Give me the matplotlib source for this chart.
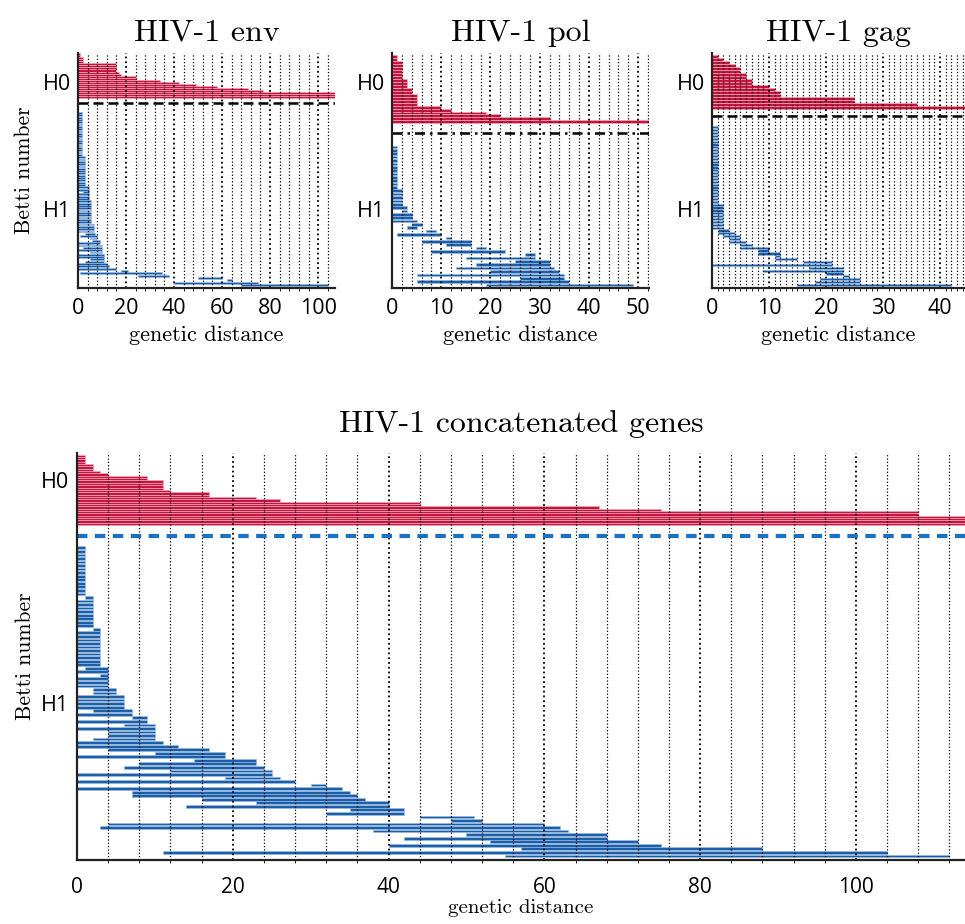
import numpy as np
import matplotlib
matplotlib.use("Agg")
import matplotlib.pyplot as plt
from matplotlib.ticker import MultipleLocator

RED = "#c5143d"
PINK = "#f2aabb"
BLUE = "#1d5ea8"
LIGHTBLUE = "#9cbfe4"

# ---- env barcode ----
env_h0 = [1, 1, 2, 2, 2, 16, 16, 16, 16, 17, 18, 24, 24, 34, 42, 49, 58, 71, 77, 107, 107, 107]
env_h1_birth = ([0] * 19 + [0] * 13 + [0, 0, 2, 0, 0, 0] + [0] * 10 + [0] * 4
                + [3, 1, 5, 6, 0] + [0, 2, 0, 5, 0, 0, 5, 3, 0, 0]
                + [0, 18, 1, 25, 50, 62, 40, 68])
env_h1_death = ([1.8] * 19 + [2.8] * 13 + [4.6] * 6 + [5.5] * 10 + [6.7] * 4
                + [7, 8, 8, 9, 9] + [10, 10, 10, 10, 11, 11, 11, 11, 12, 13]
                + [15.7, 21, 35, 38, 60, 64, 75, 104])

# ---- pol barcode ----
pol_h0 = [1, 1, 2, 2, 2, 2, 2, 2, 3, 3, 3, 4, 4, 5, 5, 5, 5, 10, 12, 19, 22, 32, 53]
pol_h1_birth = ([0] * 13 + [0] * 5 + [0, 2, 0, 0, 0, 4, 3, 7, 1, 11, 6, 11, 17, 8,
                27, 15, 25, 17, 13, 20, 5, 26, 5, 19])
pol_h1_death = ([1] * 13 + [2] * 5 + [3, 3, 4, 4, 5, 6, 5, 9, 10, 12, 16, 16, 19, 23,
                29, 29, 32, 32, 33, 34, 35, 35, 36, 49])

# ---- gag barcode ----
gag_h0 = [1, 2, 3, 4, 5, 5, 6, 6, 7, 7, 10, 11, 12, 12, 25, 25, 36, 45]
gag_h1_birth = ([0] * 27 + [0] * 9 + [1, 1, 2, 3, 3, 5, 5, 8, 8, 11, 11, 16, 0, 17,
                9, 20, 23, 19, 18, 15])
gag_h1_death = ([1] * 27 + [2] * 9 + [3, 4, 5, 5, 6, 7, 10, 10, 12, 12, 15, 21, 21, 23,
                23, 23, 24, 26, 26, 42])

# ---- concatenated genes barcode ----
cat_h0 = [1, 1, 1, 1, 2, 2, 2, 3, 4, 9, 9, 11, 11, 11, 11, 12, 17, 17, 23, 26,
          44, 44, 67, 75, 108, 108, 115, 115, 115, 115]
cat_h1_birth = ([0] * 14 + [1] + [0] * 8 + [2] + [0] * 10
                + [1, 0, 3, 0, 0, 0, 2, 2, 0, 0, 0, 0, 2, 0, 7, 0, 6, 0, 4, 4, 2, 0, 0,
                   4, 10, 0, 15, 8, 6, 12, 0, 19, 0, 30, 0, 7, 7, 16, 23, 14, 35, 32,
                   44, 48, 4, 3, 38, 50, 42, 53, 40, 57, 11, 55])
cat_h1_death = ([1] * 14 + [2] + [2] * 8 + [3] + [3] * 10
                + [4, 4, 4, 4, 4, 4, 5, 5, 6, 6, 6, 6, 7, 7, 9, 9, 10, 10, 10, 10, 10, 11, 13,
                   17, 19, 19, 23, 23, 24, 25, 25, 26, 28, 32, 34, 35, 36, 37, 40, 40, 42, 42,
                   51, 52, 60, 62, 63, 68, 68, 72, 75, 88, 104, 112])


def draw_barcode(ax, h0, birth, death, h0_band, h1_band, sep, xmax):
    y0 = np.linspace(h0_band[0], h0_band[1], len(h0))
    p0 = (h0_band[1] - h0_band[0]) / (len(h0) - 1)
    ax.barh(y0, h0, left=0, height=p0, color=RED, edgecolor=PINK, linewidth=0.5)
    birth = np.array(birth, dtype=float)
    death = np.array(death, dtype=float)
    y1 = np.linspace(h1_band[0], h1_band[1], len(birth))
    p1 = (h1_band[1] - h1_band[0]) / (len(birth) - 1)
    ax.barh(y1, death - birth, left=birth, height=p1 * 0.78, color=BLUE,
            edgecolor=LIGHTBLUE, linewidth=0.4)
    ax.set_xlim(0, xmax)
    ax.set_ylim(1, 0)
    for s in ["top", "right"]:
        ax.spines[s].set_visible(False)
    for s in ["left", "bottom"]:
        ax.spines[s].set_linewidth(1.6)
        ax.spines[s].set_color("#222222")
    ax.tick_params(length=0)


fig = plt.figure(figsize=(9.65, 9.24), dpi=100)
tick_font = "Open Sans"
serif = "cmr10"

panels = [
    ("HIV-1 env", [0.0808, 0.6883, 0.2663, 0.2543], env_h0, env_h1_birth, env_h1_death,
     (0.005, 0.187), (0.255, 0.987), 0.213, 107, 20, 4),
    ("HIV-1 pol", [0.4062, 0.6883, 0.2663, 0.2543], pol_h0, pol_h1_birth, pol_h1_death,
     (0.016, 0.293), (0.40, 0.987), 0.34, 52.2, 10, 2),
    ("HIV-1 gag", [0.7378, 0.6883, 0.2622, 0.2543], gag_h0, gag_h1_birth, gag_h1_death,
     (0.013, 0.23), (0.316, 0.987), 0.268, 44.4, 10, 1),
]

sep_styles = [(0, (4, 2)), (0, (4, 2, 1, 2)), (0, (4, 2))]

for i, (title, rect, h0, b, d, band0, band1, sep, xmax, major, minor) in enumerate(panels):
    ax = fig.add_axes(rect)
    draw_barcode(ax, h0, b, d, band0, band1, sep, xmax)
    ax.axhline(sep, color="black", ls=sep_styles[i], lw=1.8)
    ax.xaxis.set_major_locator(MultipleLocator(major))
    ax.xaxis.set_minor_locator(MultipleLocator(minor))
    ax.grid(which="major", axis="x", ls=":", color="black", lw=1.3)
    ax.grid(which="minor", axis="x", ls=":", color="black", lw=0.9)
    ax.set_yticks([0.123, 0.664], ["H0", "H1"])
    ax.tick_params(axis="x", pad=7)
    ax.tick_params(axis="y", pad=5)
    for lab in ax.get_xticklabels() + ax.get_yticklabels():
        lab.set_fontfamily(tick_font)
        lab.set_fontsize(15.5)
    ax.set_title(title, family=serif, fontsize=23, pad=9)
    ax.set_xlabel("genetic distance", family=serif, fontsize=16, labelpad=5)
    if i == 0:
        ax.set_ylabel("Betti number", family=serif, fontsize=15.5, labelpad=6)

# concatenated genes
ax = fig.add_axes([0.0798, 0.0693, 0.9202, 0.4404])
draw_barcode(ax, cat_h0, cat_h1_birth, cat_h1_death, (0.007, 0.174), (0.233, 0.99), 0.204, 114)
ax.axhline(0.204, color="#1d6fc0", ls=(0, (2.5, 1.8)), lw=3)
ax.xaxis.set_major_locator(MultipleLocator(20))
ax.xaxis.set_minor_locator(MultipleLocator(4))
ax.grid(which="major", axis="x", ls=":", color="black", lw=1.3)
ax.grid(which="minor", axis="x", ls=":", color="black", lw=0.9)
ax.set_yticks([0.066, 0.614], ["H0", "H1"])
ax.tick_params(axis="x", pad=12)
ax.tick_params(axis="y", pad=6)
for lab in ax.get_yticklabels():
    lab.set_fontfamily(tick_font)
    lab.set_fontsize(15.5)
for lab in ax.get_xticklabels():
    lab.set_fontfamily(tick_font)
    lab.set_fontsize(15)
ax.set_title("HIV-1 concatenated genes", family=serif, fontsize=23, pad=15)
ax.set_xlabel("genetic distance", family=serif, fontsize=15, labelpad=1)
ax.set_ylabel("Betti number", family=serif, fontsize=15.5, labelpad=4)

fig.savefig("out.png", dpi=100)
